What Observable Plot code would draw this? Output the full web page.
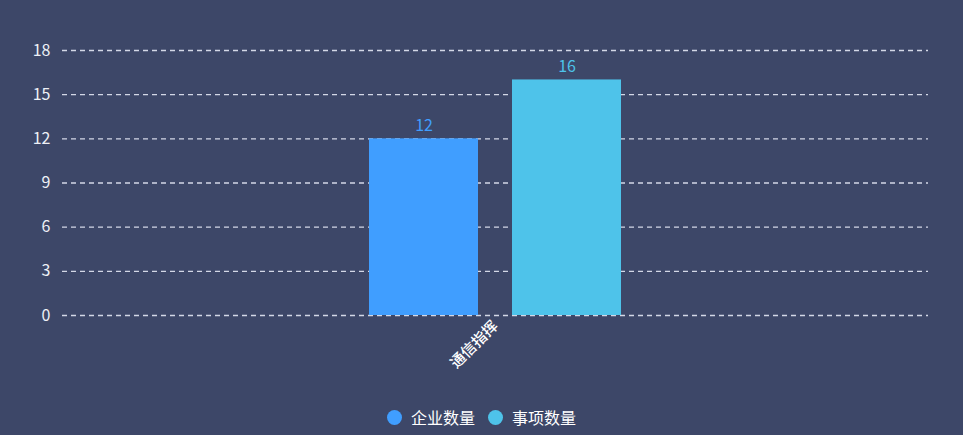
<!DOCTYPE html>
<html><head><meta charset="utf-8">
<script src="https://cdn.jsdelivr.net/npm/d3@7"></script>
<script src="https://cdn.jsdelivr.net/npm/@observablehq/plot@0.6"></script>
<style>
html,body{margin:0;padding:0;background:#3d4768;}
#wrap{width:963px;height:435px;background:#3d4768;font-family:"Noto Sans CJK SC","Noto Sans",sans-serif;}
#legend{display:flex;justify-content:center;align-items:center;gap:13px;height:44px;color:#fff;font-size:16px;}
#legend span{display:inline-flex;align-items:center;}
#legend i{display:inline-block;width:15px;height:15px;border-radius:50%;margin-right:9px;}
</style></head>
<body><div id="wrap"><div id="chart"></div><div id="legend"></div></div>
<script>
const categories = ["通信指挥"];
const series = ["企业数量", "事项数量"];
const values = { "企业数量": [12], "事项数量": [16] };
const colors = ["#409eff", "#4ec3ea"];
const yTicks = [0, 3, 6, 9, 12, 15, 18];

const data = [];
categories.forEach((c, i) => series.forEach(s => data.push({category: c, series: s, value: values[s][i]})));

const chart = Plot.plot({
  width: 963, height: 395,
  marginLeft: 62, marginRight: 35, marginTop: 50, marginBottom: 80,
  style: {background: "transparent", fontFamily: "'Noto Sans CJK SC','Noto Sans',sans-serif"},
  fx: {domain: categories, paddingInner: 0, paddingOuter: 0, label: null},
  x: {domain: series, paddingInner: 0.236, paddingOuter: 2.125, axis: null},
  y: {domain: [0, 18], ticks: yTicks, label: null},
  color: {domain: series, range: colors},
  marks: [
    Plot.ruleY(yTicks, {stroke: "#d4d8e6", strokeDasharray: "5,4", strokeWidth: 1.3}),
    Plot.barY(data, {fx: "category", x: "series", y: "value", fill: "series"}),
    Plot.text(data, {fx: "category", x: "series", y: "value", text: d => String(d.value), fill: "series", dy: -8, lineAnchor: "bottom", fontSize: 16}),
    Plot.axisY({ticks: yTicks, tickSize: 0, tickPadding: 12, fontSize: 16, color: "#eef0f6", label: null}),
    Plot.axisFx({anchor: "bottom", tickSize: 0, tickPadding: 8, tickRotate: -45, fontSize: 15, fontWeight: 500, color: "#ffffff", label: null})
  ]
});
document.getElementById("chart").appendChild(chart);
const lg = document.getElementById("legend");
series.forEach((s, i) => {
  const sp = document.createElement("span");
  sp.innerHTML = `<i style="background:${colors[i]}"></i>${s}`;
  lg.appendChild(sp);
});
</script></body></html>
